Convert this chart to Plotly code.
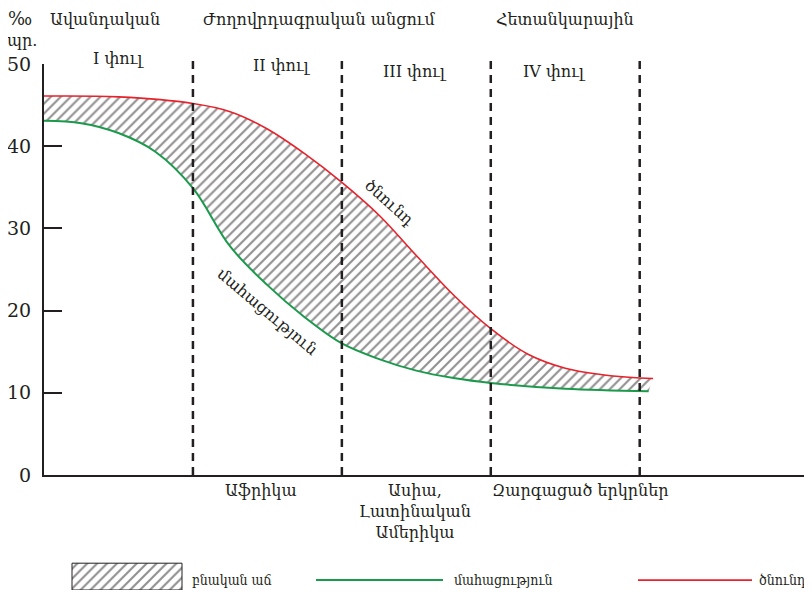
import plotly.graph_objects as go

# demographic transition: birth / death rate, per mille
stage_pos = [0, 0.5, 1.0, 1.25, 1.5, 1.75, 2.0, 2.25, 2.5, 2.75, 3.0, 3.25, 3.5, 3.75, 4.0, 4.09]
birth_rate = [46.1, 46.0, 45.2, 44.2, 42.1, 39.1, 35.6, 31.6, 26.7, 21.9, 17.8, 14.7, 13.0, 12.2, 11.8, 11.75]

death_pos = [0, 0.25, 0.5, 0.75, 1.0, 1.25, 1.5, 1.75, 2.0, 2.25, 2.5, 2.75, 3.0, 3.5, 4.06]
death_rate = [43.1, 42.8, 41.6, 39.3, 34.9, 27.8, 23.1, 19.2, 16.0, 14.1, 12.7, 11.8, 11.2, 10.5, 10.2]

boundaries = [1, 2, 3, 4]
y_ticks = [0, 10, 20, 30, 40, 50]

header_labels = ["Ավանդական", "Ժողովրդագրական անցում", "Հետանկարային"]
stage_labels = ["I փուլ", "II փուլ", "III փուլ", "IV փուլ"]
region_labels = ["Աֆրիկա", "Ասիա,<br>Լատինական<br>Ամերիկա", "Զարգացած երկրներ"]
legend_labels = ["բնական աճ", "մահացություն", "ծնունդ"]

INK = "#231f20"
RED = "#e8212b"
GREEN = "#1c9a4c"
FONT = "DejaVu Serif"
NARROW = "DejaVu Serif Condensed, DejaVu Serif"
Y0 = 0.2186  # bottom of the main plot, in paper units

fig = go.Figure()

hatch = dict(shape="/", size=7, solidity=0.3, fgcolor=INK, bgcolor="rgba(255,255,255,0)")

fig.add_trace(go.Scatter(x=death_pos, y=death_rate, mode="lines", line=dict(color=GREEN, width=2, shape="spline"),
                         showlegend=False, hoverinfo="skip"))
fig.add_trace(go.Scatter(x=stage_pos, y=birth_rate, mode="lines", line=dict(color=RED, width=1.6, shape="spline"),
                         fill="tonexty", fillcolor="rgba(255,255,255,0)", fillpattern=hatch,
                         showlegend=False, hoverinfo="skip"))

# legend, drawn by hand on a small helper axis below the chart
fig.add_trace(go.Scatter(x=[28, 138, 138, 28, 28], y=[0, 0, 27, 27, 0], xaxis="x2", yaxis="y2", mode="lines",
                         line=dict(color=INK, width=1), fill="toself", fillcolor="rgba(255,255,255,0)",
                         fillpattern=hatch, showlegend=False, hoverinfo="skip"))
fig.add_trace(go.Scatter(x=[272, 399], y=[10, 10], xaxis="x2", yaxis="y2", mode="lines",
                         line=dict(color=GREEN, width=2), showlegend=False, hoverinfo="skip"))
fig.add_trace(go.Scatter(x=[594, 708], y=[10, 10], xaxis="x2", yaxis="y2", mode="lines",
                         line=dict(color=RED, width=1.6), showlegend=False, hoverinfo="skip"))

for xb in boundaries:
    fig.add_shape(type="line", xref="x", yref="paper", x0=xb, x1=xb, y0=Y0, y1=1.007,
                  line=dict(color=INK, width=2.5, dash="8px,6px"))

ann = []
fnt = dict(family=FONT, size=16, color=INK)
for txt, xp in zip(header_labels, [0.41, 1.85, 3.5]):
    ann.append(dict(x=xp, y=1.084, xref="x", yref="paper", text=txt, showarrow=False, font=fnt, yanchor="middle"))
for txt, xp, yp in zip(stage_labels, [0.5, 1.6, 2.49, 3.43], [1.01, 0.998, 0.986, 0.986]):
    ann.append(dict(x=xp, y=yp, xref="x", yref="paper", text=txt, showarrow=False, font=fnt, yanchor="middle"))
for txt, xp in zip(region_labels, [1.46, 2.49, 3.6]):
    ann.append(dict(x=xp, y=0.211, xref="x", yref="paper", text=txt, showarrow=False, font=fnt,
                    yanchor="top", align="center"))
ann.append(dict(x=-0.031, y=1.086, xref="paper", yref="paper", text="‰", showarrow=False,
                font=dict(family=FONT, size=18, color=INK), xanchor="center", yanchor="middle"))
ann.append(dict(x=-0.029, y=1.044, xref="paper", yref="paper", text="պր.", showarrow=False, font=fnt,
                xanchor="center", yanchor="middle"))
# curve labels
ann.append(dict(x=2.32, y=33.2, xref="x", yref="y", text="ծնունդ", showarrow=False, font=fnt, textangle=42))
ann.append(dict(x=1.5, y=19.9, xref="x", yref="y", text="մահացություն", showarrow=False, font=fnt, textangle=40))
# legend texts
for txt, xp in zip(legend_labels, [146, 408, 713]):
    ann.append(dict(x=xp, y=10, xref="x2", yref="y2", text=txt, showarrow=False,
                    font=dict(family=NARROW, size=14, color=INK), xanchor="left", yanchor="middle"))

# the page body adds an 8px margin, so the figure is 8px smaller and margins shifted
fig.update_layout(
    width=804, height=586,
    margin=dict(l=36, r=4, t=56, b=4),
    paper_bgcolor="white", plot_bgcolor="white",
    font=dict(family=FONT, color=INK),
    annotations=ann,
    xaxis=dict(range=[0, 5.13], domain=[0, 1], showline=True, linewidth=2, linecolor=INK, automargin=False,
               showticklabels=False, ticks="", showgrid=False, zeroline=False, anchor="y"),
    yaxis=dict(range=[0, 50], domain=[Y0, 1], showline=True, linewidth=2, linecolor=INK, automargin=False,
               tickvals=y_ticks, ticks="inside", ticklen=18, tickwidth=2, tickcolor=INK,
               ticklabelstandoff=7, tickfont=dict(family=FONT, size=19, color=INK),
               showgrid=False, zeroline=False),
    xaxis2=dict(range=[0, 764], domain=[0, 1], anchor="y2", visible=False),
    yaxis2=dict(range=[0, 53], domain=[0, 0.1], anchor="x2", visible=False),
)

fig.write_html("out.html")
